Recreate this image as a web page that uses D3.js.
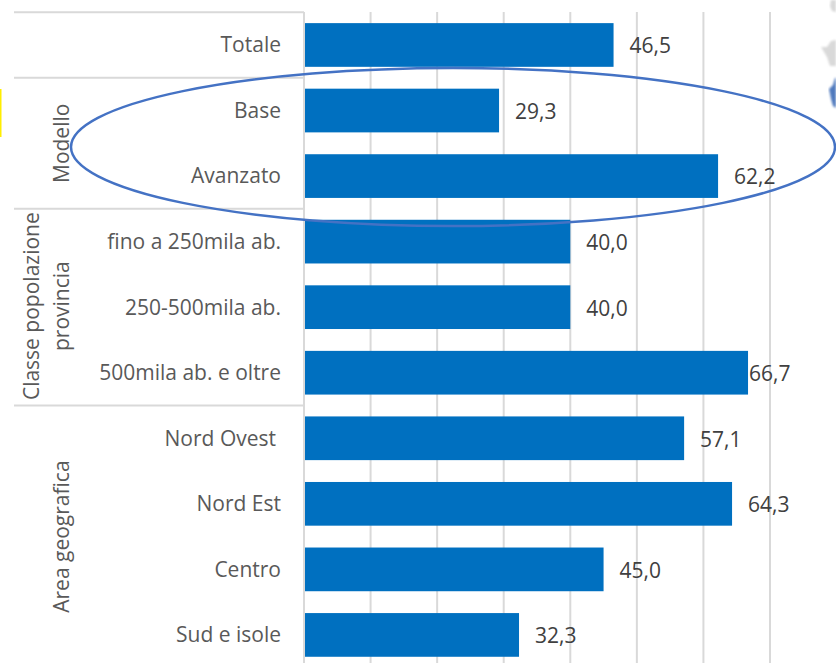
<!DOCTYPE html>
<html>
<head>
<meta charset="utf-8">
<script src="https://cdn.jsdelivr.net/npm/d3@7"></script>
<style>
  html, body { margin: 0; padding: 0; background: #fff; }
  svg { display: block; }
  text { font-family: "Open Sans", sans-serif; font-size: 21px; }
</style>
</head>
<body>
<svg id="chart" width="836" height="663"></svg>
<script>
// Percentages by segment, top to bottom
const categories = ["Totale", "Base", "Avanzato", "fino a 250mila ab.", "250-500mila ab.",
  "500mila ab. e oltre", "Nord Ovest", "Nord Est", "Centro", "Sud e isole"];
const values = [46.5, 29.3, 62.2, 40.0, 40.0, 66.7, 57.1, 64.3, 45.0, 32.3];
const gridTicks = [0, 10, 20, 30, 40, 50, 60, 70];

// Row groups: the rows each one spans and its rotated caption lines
const groupNames = ["", "Modello", "Classe popolazione|provincia", "Area geografica"];
const groupFirstRow = [0, 1, 3, 6];
const groupLastRow = [0, 2, 5, 9];

const width = 836, height = 663;
const svg = d3.select("#chart");

const x = d3.scaleLinear().domain([0, 70]).range([304, 770]);
const y = d3.scaleBand().domain(d3.range(categories.length))
  .range([12.2, 667.7]).paddingInner(1 / 3).paddingOuter(1 / 6);

const lineColor = "#d9d9d9";
const barColor = "#0070c0";
const ellipseColor = "#4472c4";

// Fragments of a neighbouring map at the right edge, and a yellow sliver at the left
const edges = svg.append("g");
edges.append("rect").attr("x", 0).attr("y", 89).attr("width", 1.5).attr("height", 48).attr("fill", "#ffee00");
const blur = svg.append("defs").append("filter").attr("id", "soft");
blur.append("feGaussianBlur").attr("stdDeviation", 0.8);
const mapShapes = [
  { fill: "#d9d9d9", pts: [[831,0],[836,0],[836,12],[832,11],[830,6]] },
  { fill: "#d9d9d9", pts: [[821,47],[827,47],[831,41],[836,40],[836,66],[830,66],[827,57]] },
  { fill: "#4f79bd", pts: [[829,89],[833,85],[835,78],[836,78],[836,108],[833,106],[831,99],[830,94]] }
];
edges.selectAll("polygon").data(mapShapes).join("polygon")
  .attr("points", d => d.pts.join(" "))
  .attr("fill", d => d.fill)
  .attr("filter", "url(#soft)");

// Vertical gridlines
svg.append("g").selectAll("line").data(gridTicks).join("line")
  .attr("x1", d => x(d)).attr("x2", d => x(d))
  .attr("y1", 12).attr("y2", height)
  .attr("stroke", lineColor).attr("stroke-width", 2);

// Horizontal separators between the row groups, plus the top rule
const rowStep = y.step();
const separatorY = i => y(groupFirstRow[i]) - y.paddingInner() * rowStep / 2;
svg.append("g").selectAll("line").data(groupFirstRow.map((_, i) => i)).join("line")
  .attr("x1", 14).attr("x2", x(0))
  .attr("y1", i => separatorY(i)).attr("y2", i => separatorY(i))
  .attr("stroke", lineColor).attr("stroke-width", 2);

// Bars
svg.append("g").selectAll("rect").data(values).join("rect")
  .attr("x", x(0) + 1)
  .attr("y", (d, i) => y(i))
  .attr("width", d => x(d) - x(0) - 1)
  .attr("height", y.bandwidth())
  .attr("fill", barColor);

// Category labels; "Nord Ovest" carries a trailing space in its cell, so it sits further left
svg.append("g").selectAll("text").data(categories).join("text")
  .attr("x", d => d === "Nord Ovest" ? 276 : 281)
  .attr("y", (d, i) => y(i) + y.bandwidth() / 2)
  .attr("dy", "0.35em")
  .attr("text-anchor", "end")
  .attr("fill", "#595959")
  .text(d => d);

// Value labels; the longest bar's label hugs the bar end
const fmt = v => v.toFixed(1).replace(".", ",");
const longest = d3.max(values);
svg.append("g").selectAll("text").data(values).join("text")
  .attr("x", d => x(d) + (d === longest ? 1 : 16))
  .attr("y", (d, i) => y(i) + y.bandwidth() / 2 + 1)
  .attr("dy", "0.35em")
  .attr("fill", "#404040")
  .text(fmt);

// Rotated group captions
groupNames.forEach((name, i) => {
  if (!name) return;
  const cy = (y(groupFirstRow[i]) + y(groupLastRow[i]) + y.bandwidth()) / 2;
  const lines = name.split("|");
  lines.forEach((line, k) => {
    const px = lines.length > 1 ? 32 + k * 30 : 62;
    svg.append("text")
      .attr("transform", `translate(${px},${cy - (lines.length > 1 ? 1 : 0)}) rotate(-90)`)
      .attr("dy", "0.35em")
      .attr("text-anchor", "middle")
      .attr("fill", "#595959")
      .text(line);
  });
});

// Highlight ellipse around the "Modello" rows
svg.append("ellipse")
  .attr("cx", 453).attr("cy", 147).attr("rx", 382).attr("ry", 79)
  .attr("fill", "none").attr("stroke", ellipseColor).attr("stroke-width", 2.5);
</script>
</body>
</html>
